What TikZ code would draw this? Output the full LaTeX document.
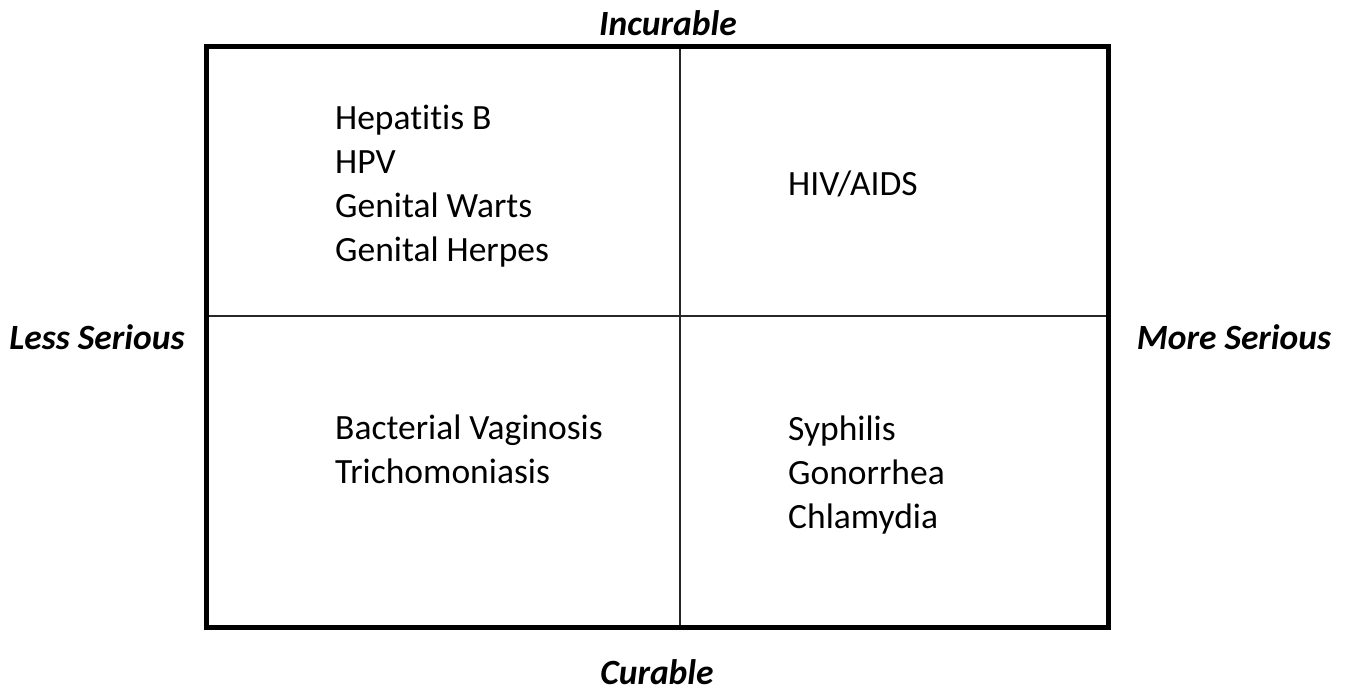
\documentclass[tikz,border=0pt]{standalone}
\usepackage{fontspec}
\setmainfont{Carlito}[Ligatures=CommonOff]
\begin{document}
\begin{tikzpicture}[x=1pt,y=-1pt,
  axislabel/.style={font=\fontsize{35.5}{40}\selectfont\bfseries\itshape, inner sep=0pt, anchor=base},
  cell/.style={font=\fontsize{35.5}{44}\selectfont, align=left, anchor=base west, inner sep=0pt},
  frame/.style={line width=5pt},
  divider/.style={line width=2pt, draw=black!85}]
\useasboundingbox[fill=white] (0,0) rectangle (1355,692);
\coordinate (tl) at (206,47);
\coordinate (br) at (1108,627);
\coordinate (vt) at (680,47);
\coordinate (vb) at (680,627);
\coordinate (hl) at (206,316);
\coordinate (hr) at (1108,316);
\draw[divider] (vt) -- (vb);
\draw[divider] (hl) -- (hr);
\draw[frame] (tl) rectangle (br);
\node[axislabel] (inc) at (668,36) {Incurable};
\node[axislabel] (cur) at (657,684) {Curable};
\node[axislabel] (less) at (97,350) {Less Serious};
\node[axislabel] (more) at (1234,350) {More Serious};
\node[cell] (q1) at (335,262) {Hepatitis B\\HPV\\Genital Warts\\Genital Herpes};
\node[cell] (q2) at (788,196) {HIV/AIDS};
\node[cell] (q3) at (335,483) {Bacterial Vaginosis\\Trichomoniasis};
\node[cell] (q4) at (788,528) {Syphilis\\Gonorrhea\\Chlamydia};
\end{tikzpicture}
\end{document}
